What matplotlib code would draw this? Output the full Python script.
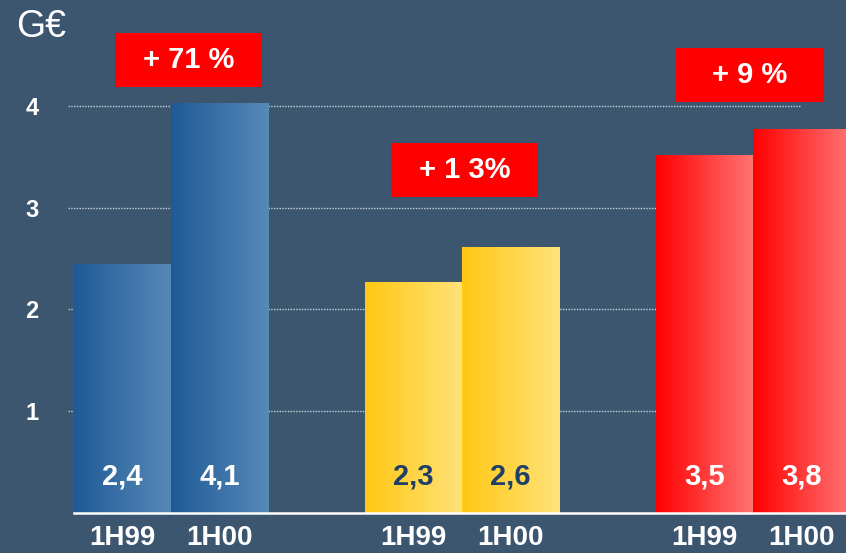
import numpy as np
import matplotlib
matplotlib.use("Agg")
import matplotlib.pyplot as plt
from matplotlib.colors import LinearSegmentedColormap
from matplotlib.patches import Rectangle

# ---- data ----
groups = ["A", "B", "C"]
periods = ["1H99", "1H00"]
heights = [2.44, 4.03, 2.27, 2.61, 3.52, 3.77]
value_labels = ["2,4", "4,1", "2,3", "2,6", "3,5", "3,8"]
growth_labels = ["+ 71 %", "+ 1 3%", "+ 9 %"]
y_ticks = [1, 2, 3, 4]
unit_label = "G€"

# ---- style ----
BG = "#3b566e"
grad = [("#1f5a96", "#5789b8"), ("#ffc814", "#ffe27a"), ("#ff0000", "#ff7474")]
value_colors = ["white", "#1f3f66", "white"]
FONT = "Liberation Sans"

fig = plt.figure(figsize=(8.46, 5.53), dpi=100, facecolor=BG)
ax = fig.add_axes([68 / 846, 0.0729, 1 - 68 / 846, 0.9195])
ax.set_facecolor(BG)

group_centers = np.arange(len(groups)) * 3.0
xs = []
for gc in group_centers:
    xs += [gc - 0.5, gc + 0.5]
xs = np.array(xs)

XL = (-1.06, 6.96)
ax.set_xlim(*XL)
ax.set_ylim(0, 5)

# gridlines
for yv in y_ticks:
    ax.plot([XL[0], 6.5], [yv, yv], color="#c9d2db", lw=1.0,
            linestyle=(0, (1, 1)), zorder=1)

bars = ax.bar(xs, heights, width=1.0, color="none", zorder=2)
grad_img = np.linspace(0, 1, 256).reshape(1, -1)
for i, b in enumerate(bars):
    g = i // 2
    cmap = LinearSegmentedColormap.from_list("g%d" % i, [grad[g][0], grad[g][1]])
    x0, w, h = b.get_x(), b.get_width(), b.get_height()
    ax.imshow(grad_img, cmap=cmap, aspect="auto",
              extent=(x0, x0 + w, 0, h), zorder=2, interpolation="bicubic")
    ax.text(x0 + w / 2, 0.36, value_labels[i], ha="center", va="center",
            color=value_colors[g], fontsize=21, fontweight="bold",
            family=FONT, zorder=4)

# baseline
ax.plot([-1.0, XL[1]], [0, 0], color="white", lw=1.8, zorder=5, clip_on=False)

# growth boxes
box_pos = [(0.18, 4.45), (3.03, 3.37), (5.97, 4.30)]
bw, bh = 1.52, 0.53
for (cx, cy), lab in zip(box_pos, growth_labels):
    ax.add_patch(Rectangle((cx - bw / 2, cy - bh / 2), bw, bh,
                           facecolor="#ff0000", edgecolor="none", zorder=6))
    ax.text(cx, cy, lab, ha="center", va="center", color="white",
            fontsize=21, fontweight="bold", family=FONT, zorder=7)

# ticks
ax.set_yticks(y_ticks)
ax.set_yticklabels([str(t) for t in y_ticks], family=FONT, fontweight="bold",
                   fontsize=17, color="white")
ax.set_xticks(xs)
ax.set_xticklabels(periods * len(groups), family=FONT, fontweight="bold",
                   fontsize=20, color="white")
ax.tick_params(axis="y", length=0, pad=21)
ax.tick_params(axis="x", length=0, pad=9)
for s in ax.spines.values():
    s.set_visible(False)

fig.text(41 / 846, 1 - 27 / 553, unit_label, ha="center", va="center",
         color="white", fontsize=27, family=FONT)

fig.savefig("out.png", dpi=100, facecolor=BG)
